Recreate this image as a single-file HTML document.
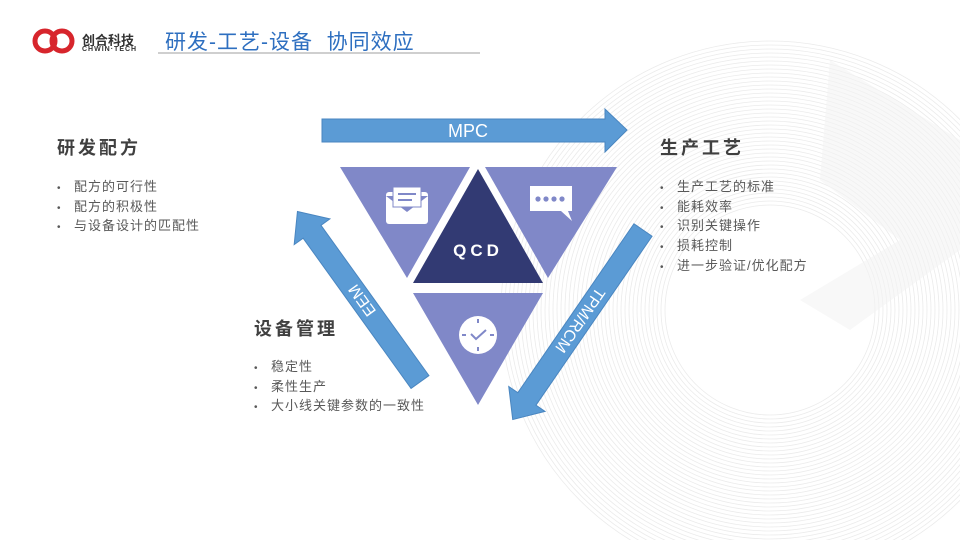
<!DOCTYPE html>
<html style="overflow:hidden"><head><meta charset="utf-8"><style>
body{margin:0;width:960px;height:540px;overflow:hidden;background:#fff;font-family:"Liberation Sans","Noto Sans CJK SC",sans-serif;position:relative}
.a{position:absolute;white-space:nowrap}
.h{font-size:18px;font-weight:bold;color:#404040;letter-spacing:3px}
.b{font-size:13px;color:#595959;letter-spacing:1px}
.b div{height:19.7px;line-height:19.7px}
.b span{display:inline-block;width:17px;font-size:10px}
</style></head><body>
<svg width="960" height="540" style="position:absolute;left:0;top:0">
<g fill="none" stroke="#ebebeb" stroke-width="0.8" id="rings"></g>
<polygon points="830,60 960,140 960,250 850,330 800,300 900,240 820,180" fill="#f3f3f3" opacity="0.6"/>
<!-- logo -->
<circle cx="45" cy="41" r="10" fill="none" stroke="#d7252c" stroke-width="5"/>
<circle cx="62" cy="41" r="10" fill="none" stroke="#d7252c" stroke-width="5"/>
<line x1="158" y1="53" x2="480" y2="53" stroke="#bfbfbf" stroke-width="1.5"/>
<!-- MPC arrow -->
<polygon points="322,119 605,119 605,109 627,130 605,152 605,142 322,142" fill="#5b9bd5" stroke="#4a86c0" stroke-width="1"/>
<text x="468" y="137" font-size="18" fill="#fff" text-anchor="middle" font-family="Liberation Sans">MPC</text>
<!-- triangles -->
<polygon points="340,167 470,167 407,278" fill="#8088c8"/>
<polygon points="485,167 617,167 548,278" fill="#8088c8"/>
<polygon points="478,169 413,283 543,283" fill="#323a73"/>
<polygon points="413,293 543,293 478,405" fill="#8088c8"/>
<text x="478" y="256" font-size="17" font-weight="bold" fill="#fff" text-anchor="middle" letter-spacing="4" font-family="Liberation Sans">QCD</text>
<!-- envelope -->
<rect x="386" y="192" width="42" height="32" rx="3" fill="#fff"/>
<polygon points="386,196 407,212 428,196" fill="#8088c8"/>
<rect x="393" y="187" width="28" height="20" fill="#fff" stroke="#8088c8" stroke-width="1"/>
<line x1="398" y1="194" x2="416" y2="194" stroke="#8088c8" stroke-width="2"/>
<line x1="398" y1="200" x2="412" y2="200" stroke="#8088c8" stroke-width="2"/>
<!-- chat -->
<path d="M530,186 H572 V211 H568 L572,221 L561,211 H530 Z" fill="#fff"/>
<g fill="#8088c8"><circle cx="538" cy="199" r="2.6"/><circle cx="546" cy="199" r="2.6"/><circle cx="554" cy="199" r="2.6"/><circle cx="562" cy="199" r="2.6"/></g>
<!-- clock -->
<circle cx="478" cy="335" r="19" fill="#fff"/>
<g stroke="#8088c8" stroke-width="2"><line x1="478" y1="319" x2="478" y2="323"/><line x1="478" y1="347" x2="478" y2="351"/><line x1="462" y1="335" x2="466" y2="335"/><line x1="490" y1="335" x2="494" y2="335"/><polyline points="471,334 476,339 486,330" fill="none"/></g>
<!-- EEM arrow -->
<g transform="translate(420,382) rotate(-125.7)">
<polygon points="0,-11 185,-11 185,-22 210,0 185,22 185,11 0,11" fill="#5b9bd5" stroke="#4a86c0"/>
<text x="100" y="6" font-size="16" fill="#fff" text-anchor="middle" font-family="Liberation Sans">EEM</text>
</g>
<!-- TPM arrow -->
<g transform="translate(643,230) rotate(124.5)">
<polygon points="0,-11 205,-11 205,-22 230,0 205,22 205,11 0,11" fill="#5b9bd5" stroke="#4a86c0"/>
<text x="110" y="6" font-size="16" fill="#fff" text-anchor="middle" font-family="Liberation Sans">TPM/RCM</text>
</g>
</svg>
<div class="a" style="left:82px;top:30px;font-size:13px;font-weight:bold;color:#333">创合科技</div>
<div class="a" style="left:82px;top:46px;font-size:7px;font-weight:bold;color:#333;letter-spacing:1px;background:#fff">CHWIN·TECH</div>
<div class="a" style="left:165px;top:26px;font-size:21px;color:#2e6fc0;letter-spacing:1px">研发-工艺-设备&nbsp; 协同效应</div>
<div class="a h" style="left:57px;top:134px">研发配方</div>
<div class="a b" style="left:57px;top:177px"><div><span>•</span>配方的可行性</div><div><span>•</span>配方的积极性</div><div><span>•</span>与设备设计的匹配性</div></div>
<div class="a h" style="left:660px;top:134px">生产工艺</div>
<div class="a b" style="left:660px;top:177px"><div><span>•</span>生产工艺的标准</div><div><span>•</span>能耗效率</div><div><span>•</span>识别关键操作</div><div><span>•</span>损耗控制</div><div><span>•</span>进一步验证/优化配方</div></div>
<div class="a h" style="left:254px;top:315px">设备管理</div>
<div class="a b" style="left:254px;top:357px"><div><span>•</span>稳定性</div><div><span>•</span>柔性生产</div><div><span>•</span>大小线关键参数的一致性</div></div>
<script>
var g=document.getElementById('rings'),s='';
for(var r=105;r<=270;r+=4){s+='<circle cx="770" cy="310" r="'+r+'"/>';}
g.innerHTML=s;
</script>
</body></html>
